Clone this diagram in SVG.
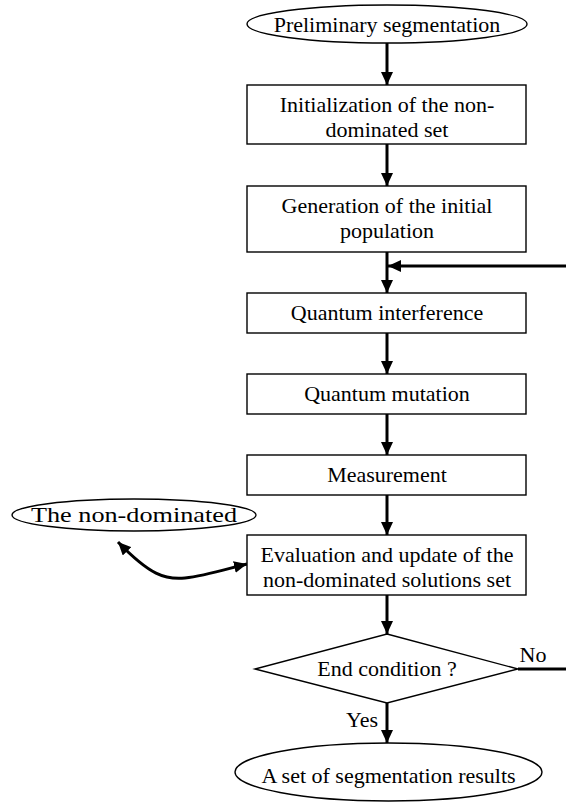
<svg xmlns="http://www.w3.org/2000/svg" width="566" height="805" viewBox="0 0 566 805">
<style>
.s{fill:#fff;stroke:#000;stroke-width:1.4}
.t{font-family:"Liberation Serif","Times New Roman",serif;font-size:22px;fill:#000;text-anchor:middle}
.c{fill:none;stroke:#000;stroke-width:3}
</style>
<defs>
<marker id="ah" markerUnits="userSpaceOnUse" markerWidth="13" markerHeight="12" refX="13" refY="6" orient="auto-start-reverse" viewBox="0 0 13 12">
<path d="M0,0 L13,6 L0,12 z" fill="#000"/>
</marker>
</defs>
<rect width="566" height="805" fill="#fff"/>
<g id="connectors">
<line class="c" x1="387" y1="43" x2="387" y2="85" marker-end="url(#ah)"/>
<line class="c" x1="387" y1="144" x2="387" y2="186" marker-end="url(#ah)"/>
<line class="c" x1="387" y1="252" x2="387" y2="293" marker-end="url(#ah)"/>
<line class="c" x1="566" y1="266" x2="388" y2="266" marker-end="url(#ah)"/>
<line class="c" x1="387" y1="333" x2="387" y2="374" marker-end="url(#ah)"/>
<line class="c" x1="387" y1="414" x2="387" y2="455" marker-end="url(#ah)"/>
<line class="c" x1="387" y1="495" x2="387" y2="535" marker-end="url(#ah)"/>
<line class="c" x1="387" y1="595" x2="387" y2="634" marker-end="url(#ah)"/>
<line class="c" x1="387" y1="703" x2="387" y2="743" marker-end="url(#ah)"/>
<line class="c" x1="518" y1="669" x2="566" y2="669"/>
<path class="c" d="M118,542 C150,575 165,580 185,578 S230,568 247,564" marker-start="url(#ah)" marker-end="url(#ah)"/>
<text class="t" x="533" y="662">No</text>
<text class="t" x="362" y="727">Yes</text>
</g>
<g id="start">
<ellipse class="s" cx="387" cy="24" rx="140" ry="19"/>
<text class="t" x="387" y="32">Preliminary segmentation</text>
</g>
<g id="init">
<rect class="s" x="247" y="85" width="279" height="59"/>
<text class="t" x="387" y="112">Initialization of the non-</text>
<text class="t" x="387" y="137">dominated set</text>
</g>
<g id="generation">
<rect class="s" x="247" y="186" width="279" height="66"/>
<text class="t" x="387" y="213">Generation of the initial</text>
<text class="t" x="387" y="238">population</text>
</g>
<g id="interference">
<rect class="s" x="247" y="293" width="279" height="40"/>
<text class="t" x="387" y="320">Quantum interference</text>
</g>
<g id="mutation">
<rect class="s" x="247" y="374" width="279" height="40"/>
<text class="t" x="387" y="401">Quantum mutation</text>
</g>
<g id="measurement">
<rect class="s" x="247" y="455" width="279" height="40"/>
<text class="t" x="387" y="482">Measurement</text>
</g>
<g id="evaluation">
<rect class="s" x="247" y="535" width="279" height="60"/>
<text class="t" x="387" y="562">Evaluation and update of the</text>
<text class="t" x="387" y="587">non-dominated solutions set</text>
</g>
<g id="nondominated">
<ellipse class="s" cx="134" cy="515" rx="122" ry="16"/>
<text class="t" x="134" y="522" textLength="206" lengthAdjust="spacingAndGlyphs">The non-dominated</text>
</g>
<g id="endcond">
<polygon class="s" points="387,634 518,669 387,703 255,669"/>
<text class="t" x="387" y="676">End condition ?</text>
</g>
<g id="results">
<ellipse class="s" cx="388.5" cy="772" rx="153.5" ry="29"/>
<text class="t" x="388.5" y="783">A set of segmentation results</text>
</g>
</svg>
